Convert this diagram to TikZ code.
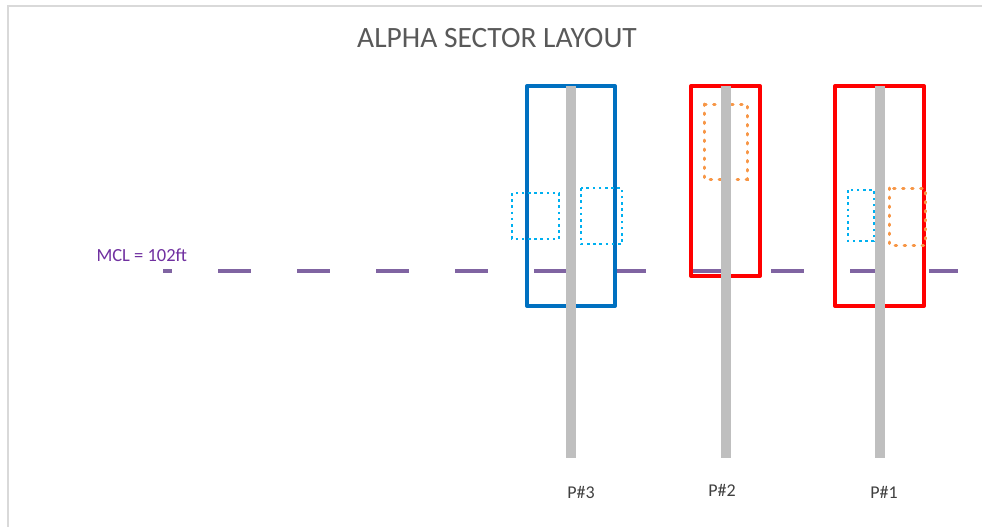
\documentclass[tikz,border=0pt]{standalone}
\usepackage{fontspec}
\setmainfont{Carlito}
\definecolor{poleblue}{HTML}{0070C0}
\definecolor{polered}{HTML}{FF0000}
\definecolor{zonecyan}{HTML}{00B0F0}
\definecolor{zoneorange}{HTML}{F79646}
\definecolor{mclline}{HTML}{8064A2}
\definecolor{mcltext}{HTML}{7030A0}
\definecolor{polegrey}{HTML}{BFBFBF}
\definecolor{framegrey}{HTML}{D9D9D9}
\definecolor{titlegrey}{HTML}{595959}
\definecolor{labelgrey}{HTML}{404040}
\tikzset{
  frame/.style={framegrey,line width=1.5},
  mcl/.style={mclline,line width=4,dash pattern=on 33 off 46,dash phase=24},
  sector/.style={line width=4,line join=round},
  zonea/.style={zonecyan,line width=2.6,dash pattern=on 2.6 off 3.6},
  zoneb/.style={zoneorange,line width=3,line cap=round,dash pattern=on 1.5 off 7.5},
  pole/.style={polegrey,line width=10},
  plabel/.style={labelgrey,anchor=base,font=\fontsize{18}{20}\selectfont}
}
\begin{document}
\begin{tikzpicture}[x=1pt,y=-1pt]
\useasboundingbox (0,0) rectangle (982,527);
% frame of the sheet
\draw[frame] (8,527)--(8,6)--(982,6);
\node[titlegrey,anchor=base,font=\fontsize{29.5}{32}\selectfont] (title) at (497,48) {ALPHA SECTOR LAYOUT};
% MCL
\coordinate (mclA) at (163,271);
\coordinate (mclB) at (958,271);
\draw[mcl] (mclA)--(mclB);
\node[mcltext,anchor=base west,font=\fontsize{18.5}{20}\selectfont] (mcllabel) at (93,261) {MCL = 102ft};
% sectors
\draw[sector,poleblue] (527,86) rectangle (615,306);
\draw[sector,polered] (691,86) rectangle (760,276);
\draw[sector,polered] (835,86) rectangle (924,306);
% zones
\draw[zonea] (512,193) rectangle (559,239);
\draw[zonea] (581,188) rectangle (622,244);
\draw[zonea] (848,190) rectangle (874,241);
\draw[zoneb] (704,104) rectangle (747,179);
\draw[zoneb] (889,188) rectangle (925,245);
% poles
\foreach \x/\n in {571/3,726/2,880/1}
{
    \draw[pole] (\x,86)--(\x,458);
}
\node[plabel] (p3) at (581,498) {P\#3};
\node[plabel] (p2) at (722,496) {P\#2};
\node[plabel] (p1) at (884,498) {P\#1};
\end{tikzpicture}
\end{document}
